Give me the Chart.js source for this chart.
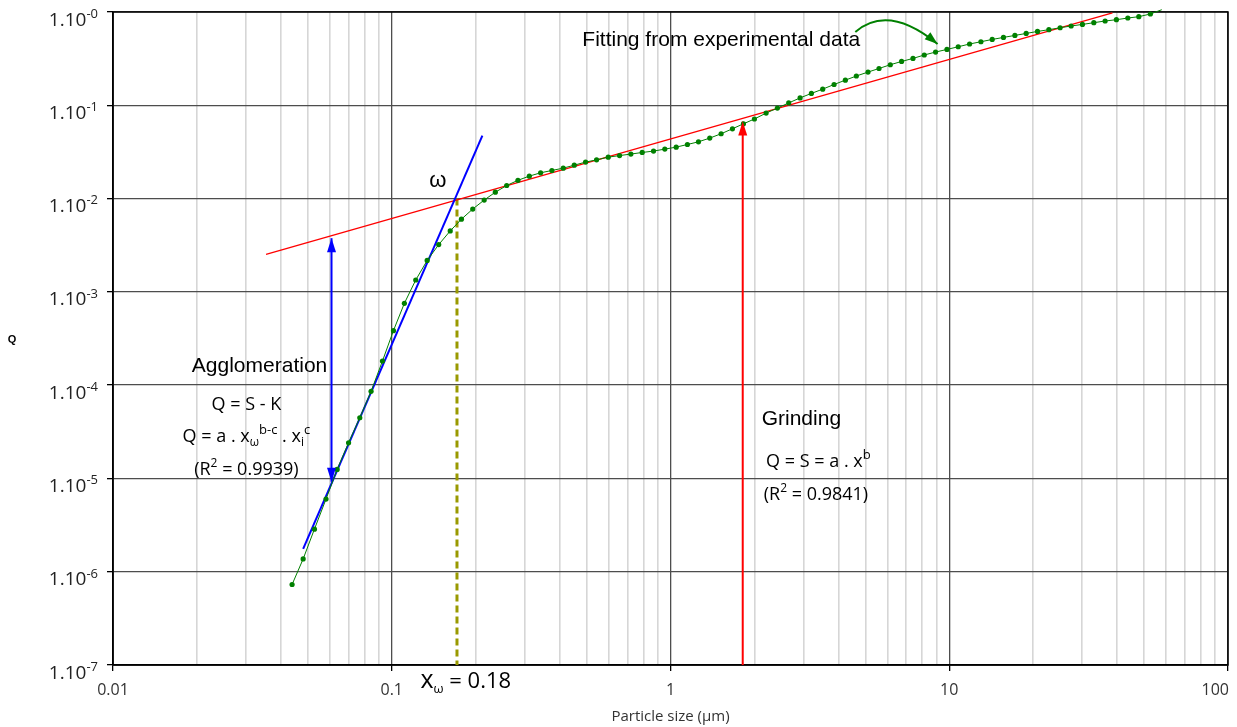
<!DOCTYPE html>
<html>
<head>
<meta charset="utf-8">
<script src="https://cdn.jsdelivr.net/npm/chart.js@4/dist/chart.umd.min.js"></script>
<style>
html,body{margin:0;padding:0;background:#fff;}
#wrap{width:1237px;height:727px;position:relative;}
</style>
</head>
<body>
<div id="wrap"><canvas id="c" width="1237" height="727"></canvas></div>
<script>
// ---------- DATA ----------
const particleSize = [
  0.0439,0.0481,0.0528,0.0581,0.0637,0.0700,0.0768,0.0843,0.0926,0.1014,
  0.1110,0.1219,0.1340,0.1474,0.1621,0.1778,0.1952,0.2146,0.2353,0.2584,
  0.2836,0.3115,0.3420,0.3754,0.4124,0.4516,0.4958,0.5430,0.5979,0.6565,
  0.7208,0.7916,0.8692,0.9541,1.048,1.150,1.260,1.383,1.519,1.668,
  1.827,2.000,2.203,2.418,2.655,2.917,3.202,3.516,3.862,4.239,
  4.642,5.112,5.598,6.145,6.745,7.412,8.136,8.930,9.813,10.77,
  11.83,12.99,14.26,15.65,17.20,18.88,20.73,22.77,24.99,27.37,
  30.05,33.01,36.24,39.78,43.71,47.86,52.67,57.87
];
const cumulativeQ = [
  7.29e-7,1.37e-6,2.86e-6,6.00e-6,1.25e-5,2.41e-5,4.47e-5,8.58e-5,1.81e-4,3.84e-4,
  7.54e-4,1.34e-3,2.17e-3,3.21e-3,4.50e-3,6.01e-3,7.72e-3,9.64e-3,0.0117,0.0138,
  0.0157,0.0174,0.0189,0.0200,0.0212,0.0228,0.0246,0.0260,0.0278,0.0289,
  0.0300,0.0312,0.0323,0.0339,0.0356,0.0380,0.0406,0.0445,0.0495,0.0560,
  0.0633,0.0713,0.0825,0.0933,0.106,0.120,0.134,0.149,0.167,0.186,
  0.206,0.227,0.248,0.272,0.295,0.318,0.346,0.372,0.397,0.424,
  0.454,0.480,0.508,0.534,0.561,0.589,0.619,0.646,0.678,0.708,
  0.736,0.768,0.801,0.827,0.862,0.891,0.952,1.058
];
// Grinding fit  Q = S = a.x^b
const grindingFitX = [0.0354, 38.5];
const grindingFitQ = [0.00253, 0.976];
// Agglomeration fit
const agglomFitX = [0.0481, 0.2114];
const agglomFitQ = [1.76e-6, 0.0474];
// Arrows
const agglomArrowX = [0.0608, 0.0608];
const agglomArrowQ = [9.2e-6, 3.76e-3];
const grindArrowX = [1.816, 1.816];
const grindArrowQ = [1e-7, 0.067];
// x omega marker line
const xOmegaLineX = [0.1714, 0.1714];
const xOmegaLineQ = [1e-2, 1e-7];
// Ticks
const xTickValues = [0.01, 0.1, 1, 10, 100];
const xTickLabels = ['0.01', '0.1', '1', '10', '100'];
const yTickValues = [1, 0.1, 0.01, 1e-3, 1e-4, 1e-5, 1e-6, 1e-7];
const yTickBase = '1.10';
const yTickExponents = ['-0', '-1', '-2', '-3', '-4', '-5', '-6', '-7'];

// ---------- HELPERS ----------
const pairs = (xs, ys) => xs.map((x, i) => ({x: x, y: ys[i]}));
const isMajorX = (t) => !!t && xTickValues.some(v => Math.abs(v - t.value) / v < 1e-9);

function head(ctx, tx, ty, dx, dy, len, hw, color) {
  const bx = tx - dx * len, by = ty - dy * len;
  const px = -dy, py = dx;
  ctx.beginPath();
  ctx.moveTo(tx, ty);
  ctx.lineTo(bx + px * hw, by + py * hw);
  ctx.lineTo(bx - px * hw, by - py * hw);
  ctx.closePath();
  ctx.fillStyle = color;
  ctx.fill();
}

function rich(ctx, segs, x, y, align, family, size, color) {
  const parts = segs.map(s => {
    const fs = s[2] || (s[1] ? Math.round(size * 0.68) : size);
    ctx.font = fs + 'px ' + family;
    return {t: s[0], k: s[1], fs: fs, w: ctx.measureText(s[0]).width};
  });
  const total = parts.reduce((a, p) => a + p.w, 0);
  let cx = align === 'center' ? x - total / 2 : x;
  ctx.textAlign = 'left';
  ctx.textBaseline = 'alphabetic';
  ctx.fillStyle = color || '#000';
  for (const p of parts) {
    ctx.font = p.fs + 'px ' + family;
    const dy = p.k === 1 ? -size * 0.45 : (p.k === 2 ? size * 0.22 : 0);
    ctx.fillText(p.t, cx, y + dy);
    cx += p.w;
  }
}

const frame = {
  id: 'frame',
  beforeDatasetsDraw(chart) {
    const {ctx, chartArea: ca} = chart;
    ctx.save();
    ctx.strokeStyle = '#000';
    ctx.lineWidth = 1.5;
    ctx.strokeRect(ca.left, ca.top, ca.right - ca.left, ca.bottom - ca.top);
    ctx.restore();
  }
};

const annot = {
  id: 'annot',
  afterDraw(chart) {
    const {ctx, chartArea: ca} = chart;
    const xs = chart.scales.x, ys = chart.scales.y;
    const X = v => xs.getPixelForValue(v), Y = v => ys.getPixelForValue(v);
    ctx.save();

    // Y tick labels with superscript exponent
    for (let i = 0; i < yTickValues.length; i++) {
      const gy = Y(yTickValues[i]);
      ctx.font = '13px "Open Sans"';
      const sw = ctx.measureText(yTickExponents[i]).width;
      ctx.font = '19px "Open Sans"';
      const bw = ctx.measureText(yTickBase).width;
      const right = ca.left - 15;
      ctx.fillStyle = '#222';
      ctx.textAlign = 'left';
      ctx.textBaseline = 'alphabetic';
      ctx.fillText(yTickBase, right - sw - bw, gy + 13.5);
      ctx.font = '13px "Open Sans"';
      ctx.fillText(yTickExponents[i], right - sw, gy + 5.8);
    }

    // X tick labels (last one kept inside the canvas)
    ctx.font = '16px "Open Sans"';
    ctx.fillStyle = '#333';
    ctx.textBaseline = 'middle';
    for (let i = 0; i < xTickValues.length; i++) {
      const px = X(xTickValues[i]);
      const last = i === xTickValues.length - 1;
      ctx.textAlign = last ? 'right' : 'center';
      ctx.fillText(xTickLabels[i], last ? px + 1 : px, ca.bottom + 25);
    }

    // Y axis title
    ctx.font = 'bold 11px "Liberation Sans"';
    ctx.fillStyle = '#000';
    ctx.textAlign = 'center';
    ctx.textBaseline = 'middle';
    ctx.fillText('Q', 12, (ca.top + ca.bottom) / 2 + 1);

    // Arrow heads
    const ax = X(agglomArrowX[0]);
    head(ctx, ax, Y(agglomArrowQ[1]), 0, -1, 14, 4.5, '#0000ff');
    head(ctx, ax, Y(agglomArrowQ[0]), 0, 1, 14, 4.5, '#0000ff');
    head(ctx, X(grindArrowX[1]), Y(grindArrowQ[1]), 0, -1, 14, 4.5, '#ff0000');

    // Curved green arrow pointing to experimental curve
    const p0 = [X(4.603), Y(0.6102)], p1 = [X(6.045), Y(1.227)], p2 = [X(9.08), Y(0.4535)];
    ctx.beginPath();
    ctx.moveTo(p0[0], p0[1]);
    ctx.quadraticCurveTo(p1[0], p1[1], p2[0], p2[1]);
    ctx.strokeStyle = '#008000';
    ctx.lineWidth = 2;
    ctx.stroke();
    let dx = p2[0] - p1[0], dy = p2[1] - p1[1];
    const dl = Math.hypot(dx, dy); dx /= dl; dy /= dl;
    head(ctx, p2[0], p2[1], dx, dy, 13, 4.5, '#008000');

    // Text annotations
    const arial = '"Liberation Sans", Arial, sans-serif';
    const sans = '"Open Sans", sans-serif';
    rich(ctx, [['Fitting from experimental data', 0]], X(0.4828), Y(0.4276), 'left', arial, 21);
    rich(ctx, [['ω', 0]], X(0.1462), Y(0.01325), 'center', arial, 22);
    rich(ctx, [['Agglomeration', 0]], X(0.03355), Y(1.372e-4), 'center', arial, 21);
    rich(ctx, [['Q = S - K', 0]], X(0.0301), Y(5.40e-5), 'center', sans, 18);
    rich(ctx, [['Q = a . x', 0], ['ω', 2, 12], ['b-c', 1, 13], [' . x', 0], ['i', 2, 12], ['c', 1, 13]], X(0.0301), Y(2.47e-5), 'center', sans, 18);
    rich(ctx, [['(R', 0], ['2', 1, 12], [' = 0.9939)', 0]], X(0.0301), Y(1.085e-5), 'center', sans, 18);
    rich(ctx, [['Grinding', 0]], X(2.124), Y(3.73e-5), 'left', arial, 21);
    rich(ctx, [['Q = S = a . x', 0], ['b', 1, 13]], X(2.203), Y(1.332e-5), 'left', sans, 18);
    rich(ctx, [['(R', 0], ['2', 1, 12], [' = 0.9841)', 0]], X(2.160), Y(5.85e-6), 'left', sans, 18);
    rich(ctx, [['x', 0, 25], ['ω', 2, 13], [' = 0.18', 0]], X(0.1267), Y(5.62e-8), 'left', sans, 22);

    ctx.restore();
  }
};

// ---------- CHART ----------
new Chart(document.getElementById('c'), {
  type: 'scatter',
  data: {
    datasets: [
      {
        label: 'Experimental data',
        data: pairs(particleSize, cumulativeQ),
        showLine: true,
        borderColor: '#008000',
        backgroundColor: '#008000',
        borderWidth: 1,
        pointRadius: c => (c.raw && c.raw.y > 1) ? 0 : 2.6,
        pointBorderWidth: 0,
        pointHoverRadius: 0,
        clip: 4,
        order: 0
      },
      {
        label: 'Agglomeration fit',
        data: pairs(agglomFitX, agglomFitQ),
        showLine: true,
        borderColor: '#0000ff',
        borderWidth: 2,
        pointRadius: 0,
        order: 1
      },
      {
        label: 'Grinding fit',
        data: pairs(grindingFitX, grindingFitQ),
        showLine: true,
        borderColor: '#ff0000',
        borderWidth: 1.3,
        pointRadius: 0,
        order: 2
      },
      {
        label: 'x omega',
        data: pairs(xOmegaLineX, xOmegaLineQ),
        showLine: true,
        borderColor: '#999900',
        borderWidth: 3,
        borderDash: [7, 4],
        pointRadius: 0,
        order: 3
      },
      {
        label: 'Agglomeration gap',
        data: pairs(agglomArrowX, agglomArrowQ),
        showLine: true,
        borderColor: '#0000ff',
        borderWidth: 2,
        pointRadius: 0,
        order: 4
      },
      {
        label: 'Grinding arrow',
        data: pairs(grindArrowX, grindArrowQ),
        showLine: true,
        borderColor: '#ff0000',
        borderWidth: 2,
        pointRadius: 0,
        order: 5
      }
    ]
  },
  options: {
    responsive: false,
    animation: false,
    devicePixelRatio: 1,
    events: [],
    layout: {padding: {top: 12, right: 9, left: 0, bottom: 0}},
    plugins: {legend: {display: false}, tooltip: {enabled: false}},
    scales: {
      x: {
        type: 'logarithmic',
        position: 'bottom',
        min: 0.01,
        max: 100,
        afterBuildTicks(s) {
          const t = [];
          for (let d = 0; d < xTickValues.length; d++) {
            t.push({value: xTickValues[d]});
            if (d < xTickValues.length - 1) {
              for (let m = 2; m <= 9; m++) t.push({value: xTickValues[d] * m});
            }
          }
          s.ticks = t;
        },
        afterFit(s) { s.height = 62; s.paddingLeft = 0; s.paddingRight = 0; },
        grid: {
          color: c => isMajorX(c.tick) ? '#4d4d4d' : '#d6d6d6',
          lineWidth: c => isMajorX(c.tick) ? 1.3 : 1.6,
          tickColor: c => isMajorX(c.tick) ? '#000' : 'rgba(0,0,0,0)',
          tickLength: 6,
          drawTicks: true
        },
        border: {display: true, color: '#000', width: 1.5},
        ticks: {display: false, autoSkip: false, maxRotation: 0},
        title: {
          display: true,
          text: 'Particle size (µm)',
          color: '#333',
          font: {family: '"Open Sans"', size: 15},
          padding: {top: 0, bottom: 1}
        }
      },
      y: {
        type: 'logarithmic',
        position: 'left',
        min: 1e-7,
        max: 1,
        afterBuildTicks(s) { s.ticks = yTickValues.map(v => ({value: v})); },
        afterFit(s) { s.width = 113; s.paddingTop = 0; s.paddingBottom = 0; },
        grid: {color: '#4d4d4d', lineWidth: 1.3, tickColor: '#000', tickLength: 6, drawTicks: true},
        border: {display: true, color: '#000', width: 1.5},
        ticks: {display: false}
      }
    }
  },
  plugins: [frame, annot]
});
</script>
</body>
</html>
